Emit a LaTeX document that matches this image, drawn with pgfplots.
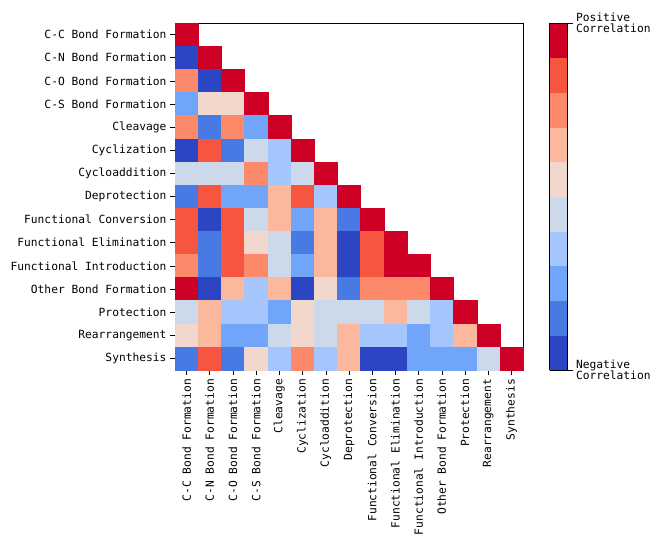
\documentclass[border=0pt]{standalone}
\usepackage{fontspec}
\setmainfont{DejaVu Sans Mono}
\usepackage{pgfplots}
\pgfplotsset{compat=1.18}
\pgfplotstableread{
x y v
0 14 9.5
0 13 0.5
1 13 9.5
0 12 7.5
1 12 0.5
2 12 9.5
0 11 2.5
1 11 5.5
2 11 5.5
3 11 9.5
0 10 7.5
1 10 1.5
2 10 7.5
3 10 2.5
4 10 9.5
0 9 0.5
1 9 8.5
2 9 1.5
3 9 4.5
4 9 3.5
5 9 9.5
0 8 4.5
1 8 4.5
2 8 4.5
3 8 7.5
4 8 3.5
5 8 4.5
6 8 9.5
0 7 1.5
1 7 8.5
2 7 2.5
3 7 2.5
4 7 6.5
5 7 8.5
6 7 3.5
7 7 9.5
0 6 8.5
1 6 0.5
2 6 8.5
3 6 4.5
4 6 6.5
5 6 2.5
6 6 6.5
7 6 1.5
8 6 9.5
0 5 8.5
1 5 1.5
2 5 8.5
3 5 5.5
4 5 4.5
5 5 1.5
6 5 6.5
7 5 0.5
8 5 8.5
9 5 9.5
0 4 7.5
1 4 1.5
2 4 8.5
3 4 7.5
4 4 4.5
5 4 2.5
6 4 6.5
7 4 0.5
8 4 8.5
9 4 9.5
10 4 9.5
0 3 9.5
1 3 0.5
2 3 6.5
3 3 3.5
4 3 6.5
5 3 0.5
6 3 5.5
7 3 1.5
8 3 7.5
9 3 7.5
10 3 7.5
11 3 9.5
0 2 4.5
1 2 6.5
2 2 3.5
3 2 3.5
4 2 2.5
5 2 5.5
6 2 4.5
7 2 4.5
8 2 4.5
9 2 6.5
10 2 4.5
11 2 3.5
12 2 9.5
0 1 5.5
1 1 6.5
2 1 2.5
3 1 2.5
4 1 4.5
5 1 5.5
6 1 4.5
7 1 6.5
8 1 3.5
9 1 3.5
10 1 2.5
11 1 3.5
12 1 6.5
13 1 9.5
0 0 1.5
1 0 8.5
2 0 1.5
3 0 5.5
4 0 3.5
5 0 7.5
6 0 3.5
7 0 6.5
8 0 0.5
9 0 0.5
10 0 2.5
11 0 2.5
12 0 2.5
13 0 4.5
14 0 9.5
}\corrdata
\begin{document}
\begin{tikzpicture}
\begin{axis}[
  scale only axis, width=348bp, height=347bp,
  xmin=-0.5, xmax=14.5, ymin=-0.5, ymax=14.5,
  xtick={0,...,14}, ytick={0,...,14},
  xticklabels={C-C Bond Formation,C-N Bond Formation,C-O Bond Formation,C-S Bond Formation,Cleavage,Cyclization,Cycloaddition,Deprotection,Functional Conversion,Functional Elimination,Functional Introduction,Other Bond Formation,Protection,Rearrangement,Synthesis},
  yticklabels={Synthesis,Rearrangement,Protection,Other Bond Formation,Functional Introduction,Functional Elimination,Functional Conversion,Deprotection,Cycloaddition,Cyclization,Cleavage,C-S Bond Formation,C-O Bond Formation,C-N Bond Formation,C-C Bond Formation},
  tick label style={font=\fontsize{11.3}{12}\selectfont, black},
  x tick label style={rotate=90, anchor=east, inner xsep=4bp},
  tick align=outside, major tick length=5bp,
  xtick pos=bottom, ytick pos=left,
  tick style={black, line width=0.6pt},
  axis line style={black, line width=0.7pt},
  colormap={cw}{rgb255=(44,69,194) rgb255=(73,122,228) rgb255=(112,165,250)
    rgb255=(164,198,252) rgb255=(204,217,234) rgb255=(242,216,204)
    rgb255=(252,184,156) rgb255=(252,138,106) rgb255=(246,85,64)
    rgb255=(206,0,38)},
  colormap access=piecewise constant,
  point meta min=0, point meta max=10,
  colorbar,
  colorbar style={
    at={(parent axis.north east)}, anchor=north west, xshift=18bp,
    width=18bp,
    ytick={0,10},
    yticklabels={{Negative\\Correlation},{Positive\\Correlation}},
    yticklabel style={align=left, font=\fontsize{11.3}{11.5}\selectfont},
    tick align=outside, major tick length=5bp,
    ytick pos=right, yticklabel pos=right,
    axis line style={black, line width=0.7pt},
  },
]
\addplot[scatter, only marks, mark=square*, mark size=11.6bp,
  point meta=explicit,
  scatter/use mapped color={draw=mapped color, fill=mapped color},
  mark options={line width=0.2pt}]
  table[x=x, y=y, meta=v] {\corrdata};
\end{axis}
\pgfresetboundingbox
\path[use as bounding box] (-175bp,-164bp) rectangle (479bp,370bp);
\end{tikzpicture}
\end{document}
